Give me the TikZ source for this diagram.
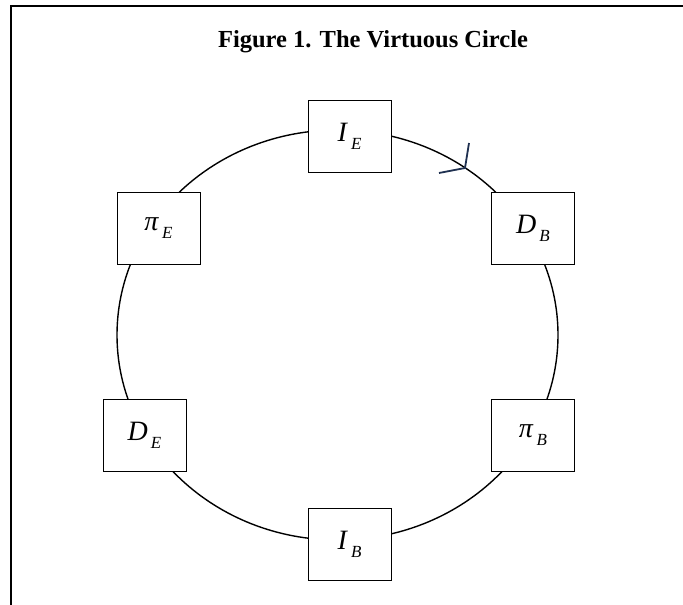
\documentclass[tikz,border=0pt]{standalone}
\usepackage{fontspec}
\setmainfont{Liberation Serif}
\definecolor{navy}{HTML}{1F3050}
\newcommand\stagelabel[2]{\textit{#1}\hspace{3pt}\raisebox{-8pt}{\fontsize{17}{20}\selectfont\textit{#2}}}
\begin{document}
\begin{tikzpicture}[x=1pt,y=-1pt,
  stagebox/.style={draw=black,line width=0.9pt,fill=white,minimum width=83pt,minimum height=72pt,inner sep=0pt,font=\fontsize{28}{33}\selectfont},
  ring/.style={line width=1.4pt},
  framerule/.style={line width=2pt}
]
\useasboundingbox (0,0) rectangle (683,605);
% frame (left and top edges only)
\coordinate (fA) at (11,605);
\coordinate (fB) at (11,6);
\coordinate (fC) at (683,6);
\draw[framerule] (fA) -- (fB) -- (fC);
% title
\node[font=\fontsize{24.5}{28}\selectfont\bfseries] (title) at (373,42) {Figure 1. The Virtuous Circle};
% circle
\coordinate (cc) at (337.5,335);
\draw[ring] (cc) ellipse [x radius=220.5, y radius=205];
% arrow mark
\coordinate (tip) at (465,168);
\coordinate (armA) at (469,143);
\coordinate (armB) at (439,173);
\draw[navy,line width=1.8pt] (armA) -- (tip) -- (armB);
% boxes
\node[stagebox] (IE) at (349.5,136) {\stagelabel{I}{E}};
\node[stagebox] (DB) at (533,228.5) {\stagelabel{D}{B}};
\node[stagebox] (piE) at (158.5,228.5) {\stagelabel{π}{E}};
\node[stagebox] (IB) at (349.5,544) {\stagelabel{I}{B}};
\node[stagebox] (piB) at (533,435.5) {\stagelabel{π}{B}};
\node[stagebox] (DE) at (144.5,435) {\stagelabel{D}{E}};
\end{tikzpicture}
\end{document}
